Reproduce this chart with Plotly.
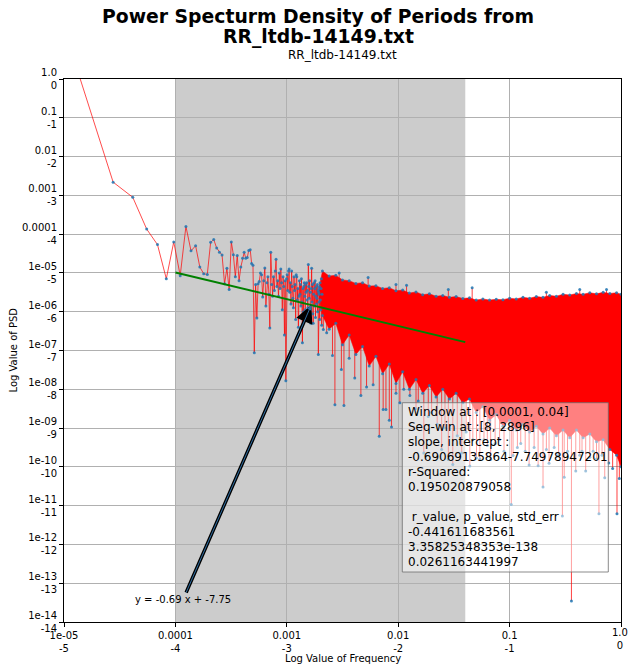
import numpy as np
import plotly.graph_objects as go

# ---------------- data ----------------
main_title_1 = "Power Specturm Density of Periods from"
main_title_2 = "RR_ltdb-14149.txt"
sub_title = "RR_ltdb-14149.txt"
x_label = "Log Value of Frequency"
y_label = "Log Value of PSD"

freq_step = 1.3808e-05  # frequency resolution of the spectrum

# log10 PSD for the first 150 frequency bins (k = 1..150)
psd_log_low = [
    0.05, -2.66, -3.05, -3.87, -4.27, -5.15, -4.20, -5.07, -3.80, -4.43,
    -4.30, -4.85, -5.02, -5.04, -4.21, -4.14, -4.36, -4.47, -4.54, -5.28,
    -4.88, -5.43, -4.20, -4.53, -5.10, -4.55, -5.20, -4.85, -4.62, -4.47,
    -4.62, -4.60, -4.42, -4.40, -4.76, -4.80, -7.06, -5.30, -6.16, -5.28,
    -5.22, -5.00, -5.05, -5.62, -5.20, -4.87, -5.85, -5.25, -5.10, -5.55,
    -6.42, -4.47, -5.30, -5.60, -5.10, -5.45, -4.95, -4.65, -5.35, -5.20,
    -5.60, -5.00, -5.40, -4.90, -5.25, -5.95, -5.10, -5.35, -6.60, -5.20,
    -7.78, -5.15, -5.05, -5.45, -4.95, -4.90, -5.50, -5.25, -5.80, -4.95,
    -5.35, -5.65, -5.90, -5.10, -5.45, -5.30, -6.20, -5.05, -5.10, -5.70,
    -5.40, -6.40, -5.60, -5.20, -5.55, -5.30, -5.85, -5.15, -5.75, -6.80,
    -5.40, -6.00, -5.35, -5.25, -5.60, -5.95, -5.30, -5.50, -5.25, -5.70,
    -5.45, -5.90, -4.78, -5.35, -5.65, -5.20, -5.95, -5.50, -6.30, -5.40,
    -4.88, -5.75, -5.30, -6.05, -6.30, -5.55, -5.25, -5.85, -5.40, -5.20,
    -6.15, -5.60, -5.35, -5.80, -5.65, -5.30, -6.00, -5.45, -7.10, -5.50,
    -5.75, -5.35, -6.20, -5.25, -5.70, -5.95, -5.40, -5.15, -6.35, -5.55,
]

# dense part of the spectrum: upper / lower envelope (log10 f, log10 PSD)
band_logf = [-2.71, -2.68, -2.62, -2.56, -2.50, -2.44, -2.38, -2.32, -2.26, -2.20, -2.14,
             -2.08, -2.02, -1.96, -1.90, -1.84, -1.78, -1.72, -1.66, -1.60, -1.54,
             -1.48, -1.42, -1.36, -1.30, -1.24, -1.18, -1.12, -1.06, -1.00, -0.94,
             -0.88, -0.82, -0.76, -0.70, -0.64, -0.58, -0.52, -0.46, -0.40, -0.34,
             -0.28, -0.22, -0.16, -0.10, -0.04, 0.00]
band_top = [-5.40, -4.95, -5.08, -5.06, -5.18, -5.20, -5.27, -5.25, -5.34, -5.33, -5.40,
            -5.38, -5.46, -5.44, -5.52, -5.49, -5.56, -5.54, -5.60, -5.58, -5.63,
            -5.61, -5.66, -5.64, -5.70, -5.67, -5.70, -5.68, -5.69, -5.65, -5.67,
            -5.63, -5.65, -5.61, -5.63, -5.58, -5.60, -5.55, -5.57, -5.53, -5.55,
            -5.51, -5.54, -5.50, -5.53, -5.51, -5.55]
band_bottom = [-5.55, -6.10, -6.45, -6.30, -6.85, -6.60, -7.10, -6.90, -7.40, -7.15, -7.60,
               -7.35, -7.85, -7.55, -8.00, -7.75, -8.10, -7.90, -8.20, -8.00, -8.25,
               -8.10, -8.35, -8.25, -8.60, -8.45, -8.80, -8.65, -8.95, -8.80, -9.05,
               -8.90, -9.10, -8.95, -9.15, -9.00, -9.20, -9.05, -9.25, -9.05, -9.25,
               -9.15, -9.35, -9.30, -9.55, -9.70, -10.00]

# isolated deep minima in the dense part
spike_down_logf = [-2.672, -2.642, -2.59, -2.568, -2.51, -2.487, -2.44, -2.39, -2.335, -2.284,
                   -2.225, -2.17, -2.135, -2.11, -2.08, -2.06, -2.02, -1.985, -1.95, -1.895,
                   -1.84, -1.82, -1.77, -1.73, -1.70, -1.65, -1.61, -1.58, -1.55, -1.51,
                   -1.47, -1.43, -1.39, -1.357, -1.33, -1.297, -1.267, -1.23, -1.20, -1.17,
                   -1.13, -1.09, -1.05, -0.985, -0.969, -0.93, -0.90, -0.86, -0.825, -0.78,
                   -0.744, -0.70, -0.67, -0.646, -0.60, -0.56, -0.526, -0.51, -0.48, -0.445,
                   -0.406, -0.37, -0.35, -0.317, -0.28, -0.25, -0.22, -0.198, -0.17, -0.146,
                   -0.11, -0.075, -0.036, -0.015]
spike_down_psd = [-6.46, -6.54, -7.13, -8.40, -7.49, -8.42, -7.20, -7.71, -8.16, -7.94,
                  -7.88, -9.21, -8.52, -8.52, -8.80, -8.97, -8.10, -8.35, -8.00, -8.16,
                  -8.50, -8.30, -9.64, -8.70, -8.60, -8.90, -9.55, -9.00, -9.81, -9.94,
                  -9.20, -9.64, -9.10, -9.98, -9.30, -9.77, -9.80, -9.30, -9.45, -9.81,
                  -9.40, -9.30, -9.60, -10.97, -9.71, -9.50, -9.40, -9.60, -9.95, -9.50,
                  -9.97, -10.52, -9.55, -9.91, -9.50, -9.70, -11.27, -10.27, -9.60, -13.46,
                  -10.11, -9.70, -9.60, -10.11, -9.75, -9.60, -9.80, -11.21, -9.70, -10.28,
                  -9.90, -10.04, -11.21, -10.30]

# isolated maxima above the dense part
spike_up_logf = [-2.53, -2.27, -2.02, -1.925, -1.55, -1.336, -0.67, -0.37, -0.13]
spike_up_psd = [-5.00, -5.12, -5.30, -5.32, -5.43, -5.38, -5.50, -5.43, -5.43]

# regression results
window = [0.0001, 0.04]
seq_win = [8, 2896]
slope = -0.69069135864
intercept = -7.74978947201
r_squared = 0.195020879058
r_value = -0.441611683561
p_value = 3.35825348353e-138
std_err = 0.0261163441997

x_tick_vals = [-5, -4, -3, -2, -1, 0]
x_tick_top = ["1e-05", "0.0001", "0.001", "0.01", "0.1", "1.0"]
y_tick_vals = [0, -1, -2, -3, -4, -5, -6, -7, -8, -9, -10, -11, -12, -13, -14]
y_tick_top = ["1.0", "0.1", "0.01", "0.001", "0.0001", "1e-05", "1e-06", "1e-07",
              "1e-08", "1e-09", "1e-10", "1e-11", "1e-12", "1e-13", "1e-14"]

# ---------------- figure ----------------
FONT = "DejaVu Sans"
RED_LINE = "rgba(255,0,0,0.7)"
BLUE_DOT = "rgba(31,119,180,0.85)"

# figure geometry (the page body adds an 8px offset)
FIG_W, FIG_H = 620, 656
M_L, M_R, M_T, M_B = 56, 7, 71, 42
PLOT_W = FIG_W - M_L - M_R
PLOT_H = FIG_H - M_T - M_B
OFFSET = 8


def px_to_paper_x(page_px):
    return (page_px - OFFSET - M_L) / PLOT_W


def px_to_paper_y(page_py):
    return (FIG_H - M_B - (page_py - OFFSET)) / PLOT_H


fig = go.Figure()

k = np.arange(1, len(psd_log_low) + 1)
x_low = np.log10(k * freq_step)
fig.add_trace(go.Scatter(x=x_low, y=psd_log_low, mode="lines",
                         line=dict(color=RED_LINE, width=1)))

# dense band
fig.add_trace(go.Scatter(x=band_logf + band_logf[::-1],
                         y=band_top + band_bottom[::-1],
                         mode="lines", fill="toself", fillcolor="rgb(255,0,0)",
                         line=dict(width=0.5, color="rgb(255,0,0)")))

spike_base = -5.9
sx, sy = [], []
for xv, yv in zip(spike_down_logf + spike_up_logf, spike_down_psd + spike_up_psd):
    sx += [xv, xv, None]
    sy += [spike_base, yv, None]
fig.add_trace(go.Scatter(x=sx, y=sy, mode="lines",
                         line=dict(color="rgba(255,0,0,0.75)", width=1)))

# sample markers
mx = list(x_low) + band_logf + band_logf + spike_down_logf + spike_up_logf
my = list(psd_log_low) + band_top + band_bottom + spike_down_psd + spike_up_psd
fig.add_trace(go.Scatter(x=mx, y=my, mode="markers",
                         marker=dict(color=BLUE_DOT, size=3, line=dict(width=0))))

# regression line
fit_x = np.log10(window)
fit_y = slope * fit_x + intercept
fig.add_trace(go.Scatter(x=fit_x, y=fit_y, mode="lines",
                         line=dict(color="green", width=2)))

# shaded window
fig.add_shape(type="rect", xref="x", yref="paper",
              x0=np.log10(window[0]), x1=np.log10(window[1]), y0=0, y1=1,
              fillcolor="#cccccc", line=dict(width=0), layer="between")

# text box
fig.add_shape(type="rect", xref="paper", yref="paper",
              x0=px_to_paper_x(402.3), x1=px_to_paper_x(608.3),
              y0=px_to_paper_y(572), y1=px_to_paper_y(402.7),
              fillcolor="rgba(255,255,255,0.5)", line=dict(color="rgba(110,110,110,0.8)", width=1),
              layer="above")

box_lines = [
    f"Window at : [{window[0]}, {window[1]}]",
    f"Seq-win at :[{seq_win[0]}, {seq_win[1]}]",
    "slope, intercept :",
    f"{slope}{intercept}",
    "r-Squared:",
    f"{r_squared}",
    "",
    "\u00a0r_value, p_value, std_err",
    f"{r_value}",
    f"{p_value}",
    f"{std_err}",
]
for i, line in enumerate(box_lines):
    if not line:
        continue
    fig.add_annotation(x=px_to_paper_x(405.5), y=px_to_paper_y(411.7 + 15 * i),
                       xref="paper", yref="paper",
                       text=line, showarrow=False, xanchor="left", yanchor="middle",
                       font=dict(family=FONT, size=12, color="black"))

# fit annotation with arrow (black outline, blue core)
head_x = -2.78
fit_label = f"y = {slope:.2f} x + {intercept:.2f}"
fig.add_annotation(x=head_x, y=slope * head_x + intercept, xref="x", yref="y",
                   ax=-3.931, ay=-13.42, axref="x", ayref="y",
                   text=fit_label, showarrow=True, arrowhead=2, arrowsize=1, arrowwidth=3.5,
                   arrowcolor="black", font=dict(family=FONT, size=10, color="black"))
fig.add_annotation(x=head_x, y=slope * head_x + intercept, xref="x", yref="y",
                   ax=-3.931, ay=-13.42, axref="x", ayref="y",
                   text=fit_label, showarrow=True, arrowhead=2, arrowsize=1, arrowwidth=1,
                   arrowcolor="#2f6ea3", font=dict(family=FONT, size=10, color="rgba(0,0,0,0)"))

# titles and axis labels
fig.add_annotation(text=f"<b>{main_title_1}</b>", x=px_to_paper_x(318), y=px_to_paper_y(16.5),
                   xref="paper", yref="paper", showarrow=False, xanchor="center", yanchor="middle",
                   font=dict(family=FONT, size=18.8, color="black"))
fig.add_annotation(text=f"<b>{main_title_2}</b>", x=px_to_paper_x(318), y=px_to_paper_y(37),
                   xref="paper", yref="paper", showarrow=False, xanchor="center", yanchor="middle",
                   font=dict(family=FONT, size=18.8, color="black"))
fig.add_annotation(text=sub_title, x=0.5, y=px_to_paper_y(55), xref="paper", yref="paper",
                   showarrow=False, xanchor="center", yanchor="middle",
                   font=dict(family=FONT, size=12, color="black"))
fig.add_annotation(text=x_label, x=0.5, y=px_to_paper_y(658), xref="paper", yref="paper",
                   showarrow=False, xanchor="center", yanchor="middle",
                   font=dict(family=FONT, size=10, color="black"))
fig.add_annotation(text=y_label, x=px_to_paper_x(13), y=0.5, xref="paper", yref="paper",
                   showarrow=False, xanchor="center", yanchor="middle", textangle=-90,
                   font=dict(family=FONT, size=10, color="black"))

# last x tick label sits right at the page edge: place it as an annotation
x_tick_text = [f"{a}<br>{b}" for a, b in zip(x_tick_top, x_tick_vals)]
fig.add_annotation(text=x_tick_text[-1], x=x_tick_vals[-1], xref="x", y=px_to_paper_y(639), yref="paper",
                   showarrow=False, xanchor="center", yanchor="middle", xshift=-1,
                   font=dict(family=FONT, size=10, color="black"))
x_tick_text[-1] = ""

axis_common = dict(showgrid=True, gridcolor="#b0b0b0", gridwidth=1, zeroline=False,
                   showline=True, linecolor="black", linewidth=1, mirror=True,
                   ticks="outside", ticklen=4, tickcolor="black",
                   tickfont=dict(family=FONT, size=10, color="black"))

fig.update_layout(
    width=FIG_W, height=FIG_H,
    margin=dict(l=M_L, r=M_R, t=M_T, b=M_B, pad=0),
    plot_bgcolor="white", paper_bgcolor="white",
    showlegend=False,
    font=dict(family=FONT, size=10, color="black"),
    xaxis=dict(range=[-5, 0], tickmode="array", tickvals=x_tick_vals,
               ticktext=x_tick_text, **axis_common),
    yaxis=dict(range=[-14, 0], tickmode="array", tickvals=y_tick_vals,
               ticktext=[f"{a}<br>{b}" for a, b in zip(y_tick_top, y_tick_vals)], **axis_common),
)

fig.write_html("out.html")
